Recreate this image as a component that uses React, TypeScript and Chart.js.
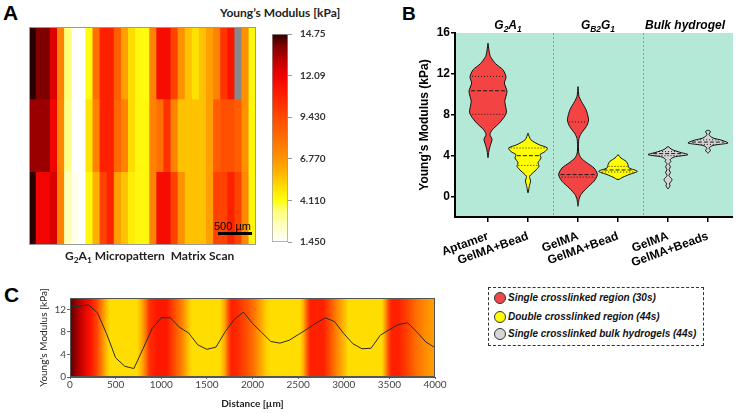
import React, { useEffect, useRef } from "react";
import { Chart, registerables } from "chart.js";
Chart.register(...registerables);

const ARIAL = "'Liberation Sans', Arial, Helvetica, sans-serif";
const CAL = "Lato, 'Open Sans', sans-serif";

// ---------------- Panel A : matrix scan ----------------
const heatRowTop = [14.75, 14.0, 14.0, 12.4, 7.4, 3.4, 1.45, 1.45, 4.2, 8.0, 10.8, 10.8, 8.7, 6.45, 5.0, 4.3, 4.2, 7.4, 11.6, 11.6, 9.7, 6.9, 5.6, 4.9, 5.6, 6.45, 7.4, 10.2, 11.3, null, 6.9, 4.3];
const heatRowMid = [13.6, 13.6, 13.6, 11.9, 7.2, 3.2, 1.45, 1.45, 4.8, 7.4, 10.8, 10.8, 8.4, 7.4, 5.0, 4.3, 4.3, 7.4, 8.0, 10.2, 7.4, 5.6, 5.6, 5.6, 5.6, 6.45, 8.7, 9.2, 9.2, 8.7, 6.9, 4.3];
const heatRowBottom = [14.75, 11.9, 11.9, 12.5, 7.4, 2.6, 1.8, 1.45, 4.3, 6.0, 9.7, 10.8, 6.45, 5.6, 4.6, 4.3, 4.3, 7.4, 11.6, 11.6, 9.7, 6.9, 5.6, 5.6, 5.6, 6.45, 9.7, 9.7, 10.8, 9.7, 7.2, 4.3];
const cbTickValues = [1.45, 4.11, 6.77, 9.43, 12.09, 14.75];
const cbTickLabels = ["1.450", "4.110", "6.770", "9.430", "12.09", "14.75"];
const cmapValues = [1.45, 2.5, 3.5, 4.11, 5.0, 6.0, 6.77, 8.0, 9.43, 10.8, 12.09, 13.0, 14.0, 14.75];
const cmapColors = ["#ffffff", "#ffffc0", "#ffff70", "#ffff10", "#ffdd00", "#ffb000", "#ff9500", "#ff7000", "#ff4a00", "#ff2000", "#f00000", "#c00000", "#800000", "#2a0000"];

// ---------------- Panel B : violins ----------------
const violinLabels = ["Aptamer", "GelMA+Bead", "GelMA", "GelMA+Bead", "GelMA", "GelMA+Beads"];
const violinCenters = [1, 2, 3.25, 4.25, 5.5, 6.5];
const bYTicks = [0, 4, 8, 12, 16];
const aptamerLevels = [15.0, 14.3, 13.7, 13.0, 12.4, 11.7, 11.1, 10.3, 9.3, 8.2, 7.3, 6.5, 6.05, 5.6, 4.9, 4.3, 3.8];
const aptamerWidths = [0, 0.05, 0.12, 0.38, 0.75, 0.9, 0.82, 0.95, 0.84, 0.92, 0.62, 0.2, 0.1, 0.2, 0.1, 0.03, 0];
const g2a1BeadLevels = [6.2, 5.56, 5.07, 4.75, 4.4, 4.1, 3.78, 3.3, 2.96, 2.5, 1.98, 1.5, 1.07, 0.36];
const g2a1BeadWidths = [0, 0.14, 0.56, 0.97, 0.85, 0.6, 0.65, 0.5, 0.55, 0.35, 0.08, 0.13, 0.07, 0];
const gb2g1GelmaLevels = [10.76, 9.8, 9.3, 8.5, 7.5, 6.86, 6.2, 5.7, 5.07, 4.26, 3.78, 3.29, 2.8, 2.15, 1.5, 0.85, 0.2, -0.29, -0.95];
const gb2g1GelmaWidths = [0, 0.05, 0.17, 0.4, 0.53, 0.42, 0.17, 0.05, 0.025, 0.04, 0.15, 0.45, 0.8, 0.97, 0.8, 0.45, 0.15, 0.05, 0];
const gb2g1BeadLevels = [4.1, 3.77, 3.45, 3.12, 2.8, 2.47, 2.15, 1.9, 1.66];
const gb2g1BeadWidths = [0, 0.15, 0.4, 0.5, 0.55, 0.97, 0.55, 0.25, 0];
const bulkGelmaLevels = [4.9, 4.6, 4.33, 4.1, 3.87, 3.6, 3.45, 3.19, 2.9, 2.63, 2.37, 2.05, 1.66, 1.24, 1.07, 0.75];
const bulkGelmaWidths = [0, 0.2, 0.6, 1.0, 0.3, 0.1, 0.15, 0.05, 0.12, 0.05, 0.12, 0.05, 0.2, 0.07, 0.1, 0];
const bulkBeadLevels = [6.5, 6.37, 6.05, 5.73, 5.5, 5.24, 5.0, 4.75, 4.52, 4.26];
const bulkBeadWidths = [0, 0.12, 0.05, 0.25, 0.7, 1.0, 0.25, 0.05, 0.12, 0];
const violinQ1 = [8.05, 3.05, 1.9, 2.4, 4.0, 5.1];
const violinMedian = [10.35, 4.0, 2.15, 2.6, 4.2, 5.33];
const violinQ3 = [11.75, 4.75, 7.3, 2.95, 4.4, 5.55];
const violinFills = ["#f44343", "#ffff00", "#f44343", "#ffff00", "#d4d4d4", "#d4d4d4"];

// ---------------- Panel C : line profile ----------------
const distanceUm = [0, 100, 200, 300, 400, 500, 600, 700, 800, 900, 1000, 1100, 1200, 1300, 1400, 1500, 1600, 1700, 1800, 1900, 2000, 2100, 2200, 2300, 2400, 2500, 2600, 2700, 2800, 2900, 3000, 3100, 3200, 3300, 3400, 3500, 3600, 3700, 3800, 3900, 4000];
const modulusProfile = [12.5, 12.5, 12.8, 11.4, 7.7, 3.4, 1.9, 1.5, 5.0, 8.6, 10.5, 10.5, 8.8, 7.8, 5.7, 4.9, 5.3, 8.0, 10.2, 11.5, 9.5, 7.9, 6.3, 6.0, 6.5, 7.5, 8.5, 9.6, 10.5, 9.8, 7.7, 5.9, 5.0, 5.1, 7.4, 8.4, 9.3, 9.6, 8.0, 6.2, 5.2];
const cTicksX = [0, 500, 1000, 1500, 2000, 2500, 3000, 3500, 4000];
const cTicksY = [0, 4, 8, 12];
const bgStopDistances = [0, 110, 220, 290, 347, 402, 438, 731, 785, 833, 869, 950, 1060, 1150, 1224, 1297, 1333, 1644, 1699, 1735, 1772, 1827, 1936, 2010, 2082, 2155, 2192, 2521, 2557, 2594, 2630, 2776, 2849, 2940, 3014, 3050, 3416, 3452, 3488, 3525, 3598, 3690, 3799, 3909, 4000];
const bgStopColors = ["#5a0000", "#c00000", "#ff1000", "#ff4000", "#ff8000", "#ffc000", "#ffdd00", "#ffdd00", "#ffb000", "#ff7000", "#ff3000", "#ff1800", "#ff1800", "#ff5000", "#ff8000", "#ffc000", "#ffdd00", "#ffdd00", "#ffa000", "#ff5000", "#ff2000", "#ff2800", "#ff5000", "#ff7000", "#ffa000", "#ffd000", "#ffdd00", "#ffdd00", "#ffb000", "#ff6000", "#ff2000", "#ff2000", "#ff5000", "#ff9000", "#ffc000", "#ffdd00", "#ffdd00", "#ffa000", "#ff5000", "#ff2000", "#ff2000", "#ff4000", "#ff7000", "#ff9000", "#ffa000"];

// ---------------- helpers ----------------
function hexToRgb(h: string) {
  const n = parseInt(h.slice(1), 16);
  return [(n >> 16) & 255, (n >> 8) & 255, n & 255];
}
function colorFor(v: number | null) {
  if (v == null) return "#888888";
  if (v <= cmapValues[0]) return cmapColors[0];
  for (let i = 1; i < cmapValues.length; i++) {
    if (v <= cmapValues[i]) {
      const t = (v - cmapValues[i - 1]) / (cmapValues[i] - cmapValues[i - 1]);
      const a = hexToRgb(cmapColors[i - 1]);
      const b = hexToRgb(cmapColors[i]);
      const c = a.map((x, k) => Math.round(x + (b[k] - x) * t));
      return `rgb(${c[0]},${c[1]},${c[2]})`;
    }
  }
  return cmapColors[cmapColors.length - 1];
}
function interpWidth(levels: number[], widths: number[], v: number) {
  for (let i = 1; i < levels.length; i++) {
    if (v <= levels[i - 1] && v >= levels[i]) {
      const t = (levels[i - 1] - v) / (levels[i - 1] - levels[i]);
      return widths[i - 1] + (widths[i] - widths[i - 1]) * t;
    }
  }
  return 0;
}

function ChartBox({ left, top, width, height, make }: any) {
  const ref = useRef<HTMLCanvasElement>(null);
  useEffect(() => {
    let c: any = null;
    try {
      c = new Chart(ref.current as HTMLCanvasElement, make());
    } catch (e) {
      console.error(e);
    }
    return () => { if (c) c.destroy(); };
  }, []);
  return (
    <div style={{ position: "absolute", left, top, width, height }}>
      <canvas ref={ref} width={width} height={height} style={{ width, height, display: "block" }} />
    </div>
  );
}

const noPlugins = { legend: { display: false }, tooltip: { enabled: false } };

// ---------------- chart configs ----------------
function makeHeatmap(): any {
  const framePlugin = {
    id: "heatFrame",
    afterDraw(chart: any) {
      const { ctx, chartArea: a } = chart;
      ctx.save();
      ctx.strokeStyle = "#9a9a9a";
      ctx.lineWidth = 1;
      ctx.strokeRect(a.left + 0.5, a.top + 0.5, a.right - a.left - 1, a.bottom - a.top - 1);
      ctx.restore();
    },
  };
  return {
    type: "bar",
    data: {
      labels: heatRowTop.map((_, i) => String(i + 1)),
      datasets: [heatRowBottom, heatRowMid, heatRowTop].map((row) => ({
        data: row.map(() => 1),
        backgroundColor: row.map(colorFor),
        borderWidth: 0,
        barPercentage: 1,
        categoryPercentage: 1,
      })),
    },
    options: {
      animation: false,
      responsive: false,
      layout: { padding: 0 },
      plugins: noPlugins,
      scales: {
        x: { display: false, stacked: true },
        y: { display: false, stacked: true, min: 0, max: 3 },
      },
    },
    plugins: [framePlugin],
  };
}

function makeColorbar(): any {
  const cbMin = cbTickValues[0];
  const cbMax = cbTickValues[cbTickValues.length - 1];
  return {
    type: "bar",
    data: {
      labels: ["scale"],
      datasets: [
        {
          data: [[cbMin, cbMax]],
          backgroundColor: (c: any) => {
            const chart = c.chart;
            const y = chart.scales && chart.scales.y;
            if (!y) return "#ffffff";
            const p0 = y.getPixelForValue(cbMin);
            const p1 = y.getPixelForValue(cbMax);
            if (!isFinite(p0) || !isFinite(p1) || p0 === p1) return "#ffffff";
            const g = chart.ctx.createLinearGradient(0, p0, 0, p1);
            cmapValues.forEach((v, i) => g.addColorStop((v - cbMin) / (cbMax - cbMin), cmapColors[i]));
            return g;
          },
          borderColor: "#9a9a9a",
          borderWidth: 1,
          borderSkipped: false,
          barPercentage: 1,
          categoryPercentage: 1,
        },
      ],
    },
    options: {
      animation: false,
      responsive: false,
      layout: { padding: { top: 12, bottom: 12, left: 0, right: 0 } },
      plugins: noPlugins,
      scales: {
        x: { display: false },
        y: {
          position: "right",
          min: cbMin,
          max: cbMax,
          afterBuildTicks: (s: any) => { s.ticks = cbTickValues.map((v) => ({ value: v })); },
          afterFit: (s: any) => { s.width = 58; },
          ticks: {
            callback: (_v: any, i: number) => cbTickLabels[i],
            font: { family: CAL, size: 10, weight: "bold" },
            color: "#333",
            padding: 8,
          },
          grid: { drawOnChartArea: false, tickLength: 4, color: "#9a9a9a" },
          border: { display: false },
        },
      },
    },
  };
}

function makeViolins(): any {
  const HALF = 0.5;
  const shapes = [
    [aptamerLevels, aptamerWidths],
    [g2a1BeadLevels, g2a1BeadWidths],
    [gb2g1GelmaLevels, gb2g1GelmaWidths],
    [gb2g1BeadLevels, gb2g1BeadWidths],
    [bulkGelmaLevels, bulkGelmaWidths],
    [bulkBeadLevels, bulkBeadWidths],
  ];
  const lineSets: any[] = [];
  const shapeSets: any[] = [];
  shapes.forEach(([levels, widths], k) => {
    const c = violinCenters[k];
    const pts: any[] = [];
    levels.forEach((lv, i) => pts.push({ x: c + widths[i] * HALF, y: lv }));
    for (let i = levels.length - 2; i >= 0; i--) pts.push({ x: c - widths[i] * HALF, y: levels[i] });
    shapeSets.push({
      data: pts,
      showLine: true,
      fill: "shape",
      backgroundColor: violinFills[k],
      borderColor: "#111",
      borderWidth: 1,
      pointRadius: 0,
      tension: 0.25,
    });
    [violinQ1[k], violinMedian[k], violinQ3[k]].forEach((v, j) => {
      const hw = interpWidth(levels, widths, v) * HALF * 0.9;
      lineSets.push({
        data: [{ x: c - hw, y: v }, { x: c + hw, y: v }],
        showLine: true,
        fill: false,
        borderColor: "#1a1a1a",
        borderWidth: 1,
        borderDash: j === 1 ? [4, 2] : [1, 2],
        pointRadius: 0,
      });
    });
  });
  // first datasets are painted last (on top): lines first, shapes after
  const datasets = [...lineSets, ...shapeSets];
  const groupDividers = [2.625, 4.875];
  const bgPlugin = {
    id: "violinBg",
    beforeDraw(chart: any) {
      const { ctx, chartArea: a, scales } = chart;
      ctx.save();
      ctx.fillStyle = "#b3e9d6";
      ctx.fillRect(a.left, a.top, a.right - a.left, a.bottom - a.top);
      ctx.strokeStyle = "#7fa99c";
      ctx.lineWidth = 1;
      ctx.setLineDash([2, 2]);
      groupDividers.forEach((v) => {
        const px = Math.round(scales.x.getPixelForValue(v)) + 0.5;
        ctx.beginPath();
        ctx.moveTo(px, a.top);
        ctx.lineTo(px, a.bottom);
        ctx.stroke();
      });
      ctx.restore();
    },
  };
  const tickFont = { family: ARIAL, size: 12, weight: "bold" };
  return {
    type: "scatter",
    data: { datasets },
    options: {
      animation: false,
      responsive: false,
      layout: { padding: { top: 10, right: 0, left: 0, bottom: 0 } },
      plugins: noPlugins,
      scales: {
        x: {
          type: "linear",
          min: 0.175,
          max: 7.125,
          afterBuildTicks: (s: any) => { s.ticks = violinCenters.map((v) => ({ value: v })); },
          afterFit: (s: any) => { s.height = 50; },
          ticks: {
            callback: (_v: any, i: number) => violinLabels[i],
            font: tickFont,
            color: "#000",
            minRotation: 20,
            maxRotation: 20,
            autoSkip: false,
            padding: 7,
          },
          grid: { display: true, drawOnChartArea: false, drawTicks: true, tickLength: 5, color: "#000", lineWidth: 1.5 },
          border: { display: true, color: "#000", width: 2 },
        },
        y: {
          min: -2,
          max: 16,
          afterBuildTicks: (s: any) => { s.ticks = bYTicks.map((v) => ({ value: v })); },
          afterFit: (s: any) => { s.width = 40; },
          ticks: { font: tickFont, color: "#000", padding: 1 },
          grid: { display: true, drawOnChartArea: false, drawTicks: true, tickLength: 4, color: "#000", lineWidth: 1.5 },
          border: { display: true, color: "#000", width: 2 },
          title: { display: true, text: "Young's Modulus (kPa)", font: { family: ARIAL, size: 12, weight: "bold" }, color: "#000", padding: { top: 2, bottom: 0 } },
        },
      },
    },
    plugins: [bgPlugin],
  };
}

function makeProfile(): any {
  const bgPlugin = {
    id: "profileBg",
    beforeDraw(chart: any) {
      const { ctx, chartArea: a, scales } = chart;
      const x = scales.x;
      const x0 = x.getPixelForValue(bgStopDistances[0]);
      const x1 = x.getPixelForValue(bgStopDistances[bgStopDistances.length - 1]);
      if (!isFinite(x0) || !isFinite(x1) || x0 === x1) return;
      const g = ctx.createLinearGradient(x0, 0, x1, 0);
      bgStopDistances.forEach((d, i) => g.addColorStop(Math.min(1, Math.max(0, (x.getPixelForValue(d) - x0) / (x1 - x0))), bgStopColors[i]));
      ctx.save();
      ctx.fillStyle = g;
      ctx.fillRect(a.left, a.top, a.right - a.left, a.bottom - a.top);
      ctx.restore();
    },
    afterDraw(chart: any) {
      const { ctx, chartArea: a } = chart;
      ctx.save();
      ctx.strokeStyle = "#555";
      ctx.lineWidth = 1;
      ctx.strokeRect(Math.round(a.left) + 0.5, Math.round(a.top) + 0.5, Math.round(a.right - a.left) - 1, Math.round(a.bottom - a.top) - 1);
      ctx.restore();
    },
  };
  const tickFont = { family: CAL, size: 10 };
  return {
    type: "scatter",
    data: {
      datasets: [
        {
          data: distanceUm.map((d, i) => ({ x: d, y: modulusProfile[i] })),
          showLine: true,
          borderColor: "#2b2b2b",
          borderWidth: 1,
          pointRadius: 0,
          tension: 0,
        },
      ],
    },
    options: {
      animation: false,
      responsive: false,
      layout: { padding: { top: 18, right: 15, left: 0, bottom: 0 } },
      plugins: noPlugins,
      scales: {
        x: {
          type: "linear",
          min: 0,
          max: 4000,
          afterBuildTicks: (s: any) => { s.ticks = cTicksX.map((v) => ({ value: v })); },
          afterFit: (s: any) => { s.height = 33; },
          ticks: { font: tickFont, color: "#444", padding: 0, maxRotation: 0, callback: (v: any) => String(v) },
          grid: { drawOnChartArea: false, tickLength: 2, color: "#666" },
          border: { color: "#555" },
          title: { display: true, text: "Distance [µm]", font: { family: CAL, size: 10, weight: "bold" }, color: "#222", padding: 0 },
        },
        y: {
          min: 0,
          max: 14,
          afterBuildTicks: (s: any) => { s.ticks = cTicksY.map((v) => ({ value: v })); },
          afterFit: (s: any) => { s.width = 32; },
          ticks: { font: tickFont, color: "#444", padding: 1, callback: (v: any) => String(v) },
          grid: { drawOnChartArea: false, tickLength: 3, color: "#666" },
          border: { color: "#555" },
          title: { display: true, text: "Young's Modulus [kPa]", font: { family: CAL, size: 10 }, color: "#222", padding: 0 },
        },
      },
    },
    plugins: [bgPlugin],
  };
}

const sub = { fontSize: "0.7em", verticalAlign: "-0.3em", lineHeight: 0 } as const;
const abs = (left: number, top: number, extra: any = {}) => ({ position: "absolute" as const, left, top, whiteSpace: "nowrap" as const, ...extra });

const legendItems = [
  { fill: "#f04848", text: "Single crosslinked region (30s)" },
  { fill: "#ffff00", text: "Double crosslinked region (44s)" },
  { fill: "#d6d6d6", text: "Single crosslinked bulk hydrogels (44s)" },
];
const legendRowY = [298, 317, 334];

export default function App() {
  return (
    <div style={{ position: "absolute", left: 0, top: 0, width: 740, height: 414, background: "#fff", overflow: "hidden", fontFamily: ARIAL, color: "#000" }}>
      <div style={abs(3, 2, { font: `bold 21px ${ARIAL}`, lineHeight: "21px" })}>A</div>
      <div style={abs(402, 4, { font: `bold 19px ${ARIAL}`, lineHeight: "19px" })}>B</div>
      <div style={abs(4, 284, { font: `bold 21px ${ARIAL}`, lineHeight: "21px" })}>C</div>

      <ChartBox left={29} top={27} width={227} height={218} make={makeHeatmap} />
      <ChartBox left={272} top={20} width={74} height={236} make={makeColorbar} />
      <div style={abs(220, 6, { font: `bold 12px ${CAL}`, lineHeight: "14px", color: "#222" })}>Young’s Modulus [kPa]</div>
      <div style={abs(214, 220, { font: `11px ${ARIAL}`, lineHeight: "13px" })}>500 µm</div>
      <div style={abs(218, 232, { width: 34, height: 3, background: "#000" })} />
      <div style={abs(65, 249, { font: `bold 12px ${CAL}`, lineHeight: "14px", color: "#222" })}>
        G<sub style={sub}>2</sub>A<sub style={sub}>1</sub> Micropattern&nbsp; Matrix Scan
      </div>

      <ChartBox left={415} top={23} width={318} height={244} make={makeViolins} />
      <div style={abs(448, 18, { width: 120, textAlign: "center", font: `italic bold 12px ${ARIAL}`, lineHeight: "14px" })}>
        G<sub style={sub}>2</sub>A<sub style={sub}>1</sub>
      </div>
      <div style={abs(538, 18, { width: 120, textAlign: "center", font: `italic bold 12px ${ARIAL}`, lineHeight: "14px" })}>
        G<sub style={sub}>B2</sub>G<sub style={sub}>1</sub>
      </div>
      <div style={abs(625, 18, { width: 120, textAlign: "center", font: `italic bold 12px ${ARIAL}`, lineHeight: "14px" })}>Bulk hydrogel</div>

      <ChartBox left={38} top={280} width={412} height={130} make={makeProfile} />

      <div style={abs(488, 287, { width: 216, height: 59, boxSizing: "border-box", border: "1.5px dashed #333" })} />
      {legendItems.map((it, i) => (
        <React.Fragment key={i}>
          <div style={abs(494, legendRowY[i] - 6, { width: 12, height: 12, boxSizing: "border-box", borderRadius: "50%", background: it.fill, border: "1.5px solid #333" })} />
          <div style={abs(508, legendRowY[i] - 6, { font: `italic bold 10px ${ARIAL}`, lineHeight: "12px", color: "#111" })}>{it.text}</div>
        </React.Fragment>
      ))}
    </div>
  );
}
